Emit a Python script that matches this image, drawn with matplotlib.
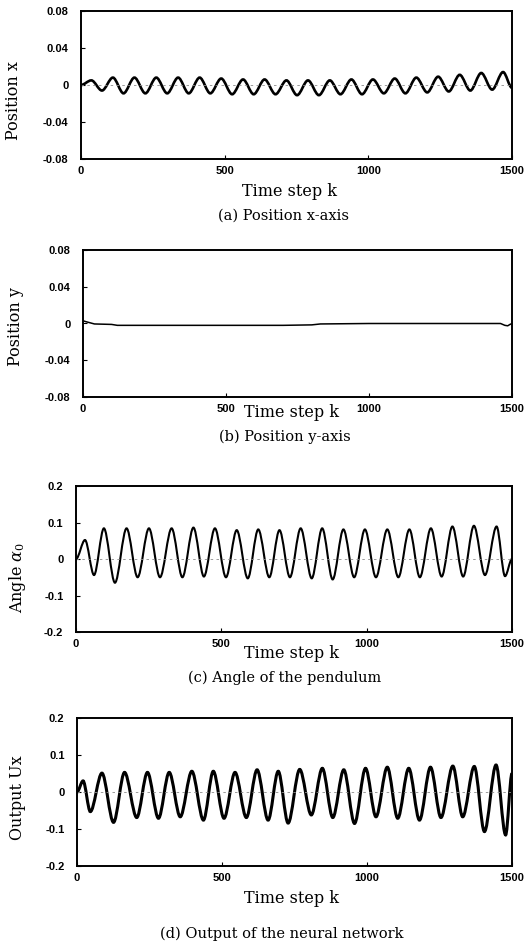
import numpy as np
import matplotlib
matplotlib.use('Agg')
import matplotlib.pyplot as plt
from matplotlib.path import Path
from matplotlib.patches import PathPatch

# Tick values and labels -----------------------------------------------
k_ticks = [0, 500, 1000, 1500]
k_labels = ['0', '500', '1000', '1500']
pos_ticks = [-0.08, -0.04, 0, 0.04, 0.08]
pos_labels = ['-0.08', '-0.04', '0', '0.04', '0.08']
ang_ticks = [-0.2, -0.1, 0, 0.1, 0.2]
ang_labels = ['-0.2', '-0.1', '0', '0.1', '0.2']

# (a) Position x: turning points ---------------------------------------
xa_peak_k = [36, 111, 186, 262, 338, 413, 488, 564, 639, 715,
             790, 866, 941, 1016, 1092, 1167, 1243, 1318, 1393, 1469]
xa_peak = [0.005, 0.008, 0.008, 0.008, 0.008, 0.008, 0.007, 0.006, 0.006, 0.005,
           0.005, 0.005, 0.006, 0.006, 0.007, 0.008, 0.009, 0.011, 0.013, 0.014]
xa_trough_k = [73, 148, 224, 300, 375, 450, 526, 601, 677, 752,
               828, 903, 978, 1054, 1129, 1205, 1280, 1355, 1431]
xa_trough = [-0.006, -0.009, -0.009, -0.009, -0.009, -0.009, -0.010, -0.010, -0.010, -0.011,
             -0.011, -0.010, -0.010, -0.009, -0.009, -0.008, -0.007, -0.006, -0.005]
xa_start, xa_end = 0.0, -0.003

# (b) Position y: nearly flat ------------------------------------------
yb_k = [0, 10, 40, 100, 120, 400, 700, 800, 830, 1000, 1200, 1460, 1475, 1485, 1493, 1500]
yb = [0.003, 0.002, -0.0005, -0.001, -0.002, -0.002, -0.002, -0.0015, -0.0005,
      0.0, 0.0, 0.0, -0.002, -0.0025, -0.001, 0.0]

# (c) Angle of the pendulum ---------------------------------------------
ac_peak_k = [31, 96, 174, 251, 329, 404, 478, 553, 627, 700,
             773, 847, 920, 994, 1071, 1147, 1221, 1295, 1369, 1447]
ac_peak = [0.052, 0.084, 0.084, 0.084, 0.084, 0.086, 0.084, 0.079, 0.081, 0.079,
           0.084, 0.084, 0.081, 0.081, 0.081, 0.081, 0.084, 0.089, 0.091, 0.089]
ac_trough_k = [62, 134, 212, 289, 366, 440, 516, 591, 665, 736,
               811, 883, 957, 1032, 1109, 1183, 1258, 1332, 1407, 1476]
ac_trough = [-0.044, -0.065, -0.050, -0.050, -0.050, -0.048, -0.050, -0.053, -0.050, -0.050,
             -0.053, -0.056, -0.050, -0.050, -0.050, -0.050, -0.048, -0.048, -0.044, -0.047]
ac_start, ac_end = 0.0, 0.0

# (d) Output of the neural network --------------------------------------
ud_peak_k = [21, 86, 164, 243, 318, 396, 470, 545, 621, 694,
             768, 846, 920, 995, 1070, 1144, 1219, 1296, 1370, 1445]
ud_peak = [0.030, 0.051, 0.053, 0.053, 0.053, 0.056, 0.056, 0.053, 0.060, 0.056,
           0.061, 0.064, 0.060, 0.064, 0.067, 0.064, 0.067, 0.070, 0.069, 0.073]
ud_trough_k = [46, 126, 206, 281, 356, 436, 507, 584, 659, 728,
               808, 882, 957, 1031, 1106, 1181, 1255, 1330, 1405, 1478]
ud_trough = [-0.053, -0.082, -0.069, -0.071, -0.067, -0.076, -0.071, -0.069, -0.076, -0.084,
             -0.062, -0.069, -0.085, -0.067, -0.071, -0.076, -0.069, -0.067, -0.107, -0.116]
ud_start, ud_end = 0.0, 0.05

plt.rcParams['axes.unicode_minus'] = False
plt.rcParams['mathtext.fontset'] = 'dejavuserif'
serif = 'DejaVu Serif'

W, H = 529, 946


def turning_points(start, pk, pv, tk, tv, end):
    pts = [(0, start)] + list(zip(pk, pv)) + list(zip(tk, tv)) + [(1500, end)]
    pts.sort()
    return pts


def smooth_curve(pts):
    # cubic segments with flat tangents at each turning point
    verts = [pts[0]]
    codes = [Path.MOVETO]
    for (k0, v0), (k1, v1) in zip(pts[:-1], pts[1:]):
        d = (k1 - k0) / 3
        verts += [(k0 + d, v0), (k1 - d, v1), (k1, v1)]
        codes += [Path.CURVE4] * 3
    return Path(verts, codes)


def box(l, t, r, b):
    return [l / W, 1 - b / H, (r - l) / W, (b - t) / H]


def style_axes(ax, yticks, ylabels, ylim):
    ax.set_xlim(0, 1500)
    ax.set_ylim(*ylim)
    ax.set_xticks(k_ticks)
    ax.set_xticklabels(k_labels)
    ax.set_yticks(yticks)
    ax.set_yticklabels(ylabels)
    ax.tick_params(direction='in', length=3, width=0.8)
    ax.tick_params(axis='y', pad=9)
    ax.tick_params(axis='x', pad=5)
    for lab in ax.get_xticklabels() + ax.get_yticklabels():
        lab.set_fontfamily('Liberation Sans')
        lab.set_fontweight('bold')
        lab.set_fontsize(8)
    for s in ax.spines.values():
        s.set_linewidth(1.4)


def labels(ax, ylab, ypos, xpos, cap, cpos):
    ax.set_ylabel(ylab, fontfamily=serif, fontsize=11.5, va='center')
    ax.yaxis.set_label_coords(ypos[0] / W, 1 - ypos[1] / H, transform=fig.transFigure)
    ax.set_xlabel('Time step k', fontfamily=serif, fontsize=11.5, va='center')
    ax.xaxis.set_label_coords(xpos[0] / W, 1 - xpos[1] / H, transform=fig.transFigure)
    fig.text(cpos[0] / W, 1 - cpos[1] / H, cap, fontfamily=serif, fontsize=10.5,
             ha='center', va='center')


fig = plt.figure(figsize=(W / 100, H / 100), dpi=100)

# (a) -------------------------------------------------------------------
ax = fig.add_axes(box(81, 11, 512, 159))
style_axes(ax, pos_ticks, pos_labels, (-0.08, 0.08))
ax.axhline(0, color='0.55', lw=0.6, ls=(0, (3, 4)))
pts = turning_points(xa_start, xa_peak_k, xa_peak, xa_trough_k, xa_trough, xa_end)
ax.add_patch(PathPatch(smooth_curve(pts), fill=False, ec='black', lw=1.9))
labels(ax, 'Position x', (13, 101), (290, 192), '(a) Position x-axis', (284, 216))

# (b) -------------------------------------------------------------------
ax = fig.add_axes(box(83, 250, 512, 397))
style_axes(ax, pos_ticks, pos_labels, (-0.08, 0.08))
ax.plot(yb_k, yb, color='black', lw=1.1)
labels(ax, 'Position y', (15, 327), (292, 412), '(b) Position y-axis', (285, 437))

# (c) -------------------------------------------------------------------
ax = fig.add_axes(box(76, 486, 512, 632))
style_axes(ax, ang_ticks, ang_labels, (-0.2, 0.2))
ax.axhline(0, color='0.55', lw=0.6, ls=(0, (3, 4)))
pts = turning_points(ac_start, ac_peak_k, ac_peak, ac_trough_k, ac_trough, ac_end)
ax.add_patch(PathPatch(smooth_curve(pts), fill=False, ec='black', lw=1.5))
labels(ax, r'Angle $\alpha_0$', (17, 577), (292, 654), '(c) Angle of the pendulum', (285, 678))

# (d) -------------------------------------------------------------------
ax = fig.add_axes(box(77, 718, 512, 866))
style_axes(ax, ang_ticks, ang_labels, (-0.2, 0.2))
ax.axhline(0, color='0.55', lw=0.6, ls=(0, (3, 4)))
pts = turning_points(ud_start, ud_peak_k, ud_peak, ud_trough_k, ud_trough, ud_end)
ax.add_patch(PathPatch(smooth_curve(pts), fill=False, ec='black', lw=2.2))
labels(ax, 'Output Ux', (17, 798), (292, 898), '(d) Output of the neural network', (282, 934))

fig.savefig('out.png', dpi=100)
